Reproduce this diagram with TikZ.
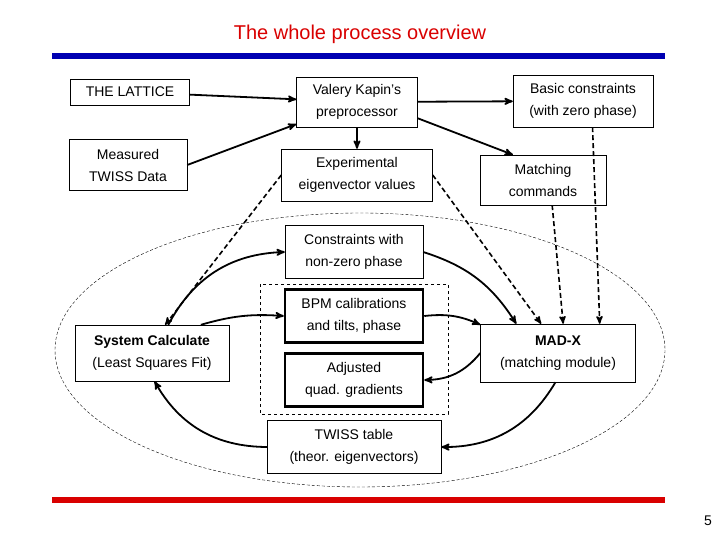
\documentclass[tikz,border=0pt]{standalone}
\usepackage{fontspec}
\setmainfont{Liberation Sans}
\usetikzlibrary{arrows,positioning}
\tikzset{box/.style={draw, align=center, inner sep=2pt, font=\fontsize{14}{22}\selectfont}}
\tikzset{thickbox/.style={box, line width=2.5pt}}
\tikzset{flow/.style={-stealth', line width=1.8pt}}
\tikzset{feed/.style={-stealth', line width=1.6pt, dash pattern=on 5pt off 3pt}}
\begin{document}
\begin{tikzpicture}[x=1pt, y=-1pt]
    \useasboundingbox (0,0) rectangle (720,540);
    \node[font=\fontsize{20}{24}\selectfont, text=red!85!black] (title) at (360,34) {The whole process overview};
    \fill[blue!70!black] (52,53) rectangle (665,59);
    \fill[red!85!black] (52,497) rectangle (665,503);
    \node[font=\fontsize{14}{16}\selectfont] (page) at (708,521) {5};
    % the loop
    \draw[densely dashed, thin] (360,350) ellipse (305 and 137);
    \draw[dashed, thick] (260,284) rectangle (448,414);
    \node[box, minimum width=119, minimum height=26] (lat) at (130,92) {THE LATTICE};
    \node[box, minimum width=118, minimum height=51] (meas) at (128,165) {Measured\\TWISS Data};
    \node[box, minimum width=121, minimum height=50] (kap) at (357,102) {Valery Kapin's\\preprocessor};
    \node[box, minimum width=151, minimum height=52] (exp) at (357,175) {Experimental\\eigenvector values};
    \node[box, minimum width=140, minimum height=52] (basic) at (583,101) {Basic constraints\\(with zero phase)};
    \node[box, minimum width=126, minimum height=50] (match) at (543,180) {Matching\\commands};
    \node[box, minimum width=138, minimum height=53] (cons) at (354,252) {Constraints with\\non-zero phase};
    \node[thickbox, minimum width=138, minimum height=53] (bpm) at (354,316) {BPM calibrations\\and tilts, phase};
    \node[thickbox, minimum width=138, minimum height=53] (quad) at (354,380) {Adjusted\\quad. gradients};
    \node[box, minimum width=154, minimum height=56] (sys) at (152,353) {\textbf{System Calculate}\\(Least Squares Fit)};
    \node[box, minimum width=155, minimum height=58] (madx) at (558,353) {\textbf{MAD-X}\\(matching module)};
    \node[box, minimum width=174, minimum height=53] (twiss) at (354,447) {TWISS table\\(theor. eigenvectors)};
    \draw[flow] (lat) -- (kap);
    \draw[flow] (meas.east) -- (kap.200);
    \draw[flow] (kap) -- (basic);
    \draw[flow] (kap.-15) -- (match.140);
    \draw[flow] (kap) -- (exp);
    \draw[feed] (exp.west) -- (sys.65);
    \draw[feed] (exp.east) -- (madx.120);
    \draw[feed] (match.-70) -- (madx.80);
    \draw[feed] (basic.-70) -- (madx.35);
    \draw[flow] (sys.60) to[bend left=30] (cons.west);
    \draw[flow] (sys.30) to[bend left=10] (bpm.west);
    \draw[flow] (cons.east) to[bend left=20] (madx.145);
    \draw[flow] (bpm.east) to[bend left=15] (madx.160);
    \draw[flow] (madx.west) to[bend left=25] (quad.east);
    \draw[flow] (madx.-95) to[bend left=30] (twiss.east);
    \draw[flow] (twiss.west) to[bend left=30] (sys.-85);
\end{tikzpicture}
\end{document}
